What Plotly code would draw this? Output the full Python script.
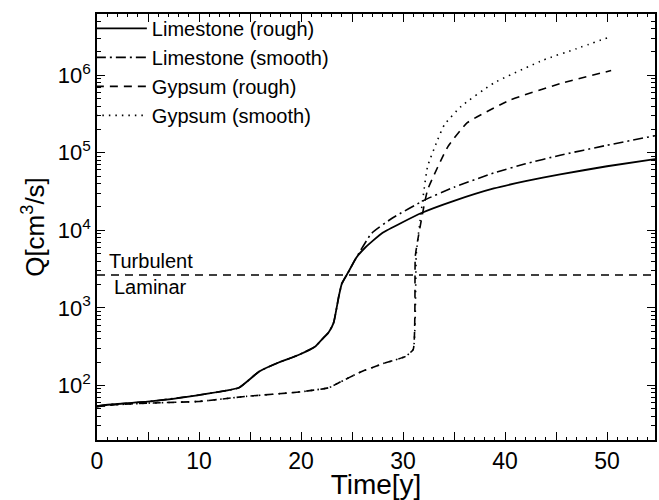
import plotly.graph_objects as go

# ---------------- data ----------------
lime_rough_t = [0, 1.6, 5.2, 10, 13.9, 15.9, 17.8, 19.8, 21.4, 22.2, 22.7, 23.2, 23.7, 24.0,
                24.6, 25.4, 26.3, 28, 31.8, 35, 38.9, 42, 45.4, 50, 54.7]
lime_rough_q = [54, 57, 62, 75, 93, 151, 197, 248, 317, 410, 480, 645, 1400, 2050,
                2830, 4400, 6000, 9300, 16700, 24000, 34700, 43000, 52600, 67000, 83000]

lime_smooth_t = [0, 1.6, 5.2, 10, 13.9, 15.9, 17.8, 19.8, 21.4, 22.2, 22.7, 23.2, 23.7, 24.0,
                 24.6, 25.4, 26.9, 29, 32.1, 35, 38.9, 42, 45.4, 50, 54.7]
lime_smooth_q = [54, 57, 62, 75, 93, 151, 197, 248, 317, 410, 480, 645, 1400, 2050,
                 2830, 4400, 9100, 14500, 24500, 36000, 55000, 72000, 93000, 125000, 166000]

gyp_rough_t = [0, 1.6, 5, 10, 14.6, 19.8, 22.7, 23.7, 25.9, 28, 30.2, 31.0, 31.2, 31.45,
               32.4, 34.4, 36.3, 40.5, 45.4, 50.4]
gyp_rough_q = [53, 56, 59, 62, 72, 82, 93, 108, 150, 190, 235, 290, 4600, 7600,
               33000, 120000, 244000, 480000, 780000, 1150000]

gyp_smooth_t = [0, 1.6, 5, 10, 14.6, 19.8, 22.7, 23.7, 25.9, 28, 30.2, 31.0, 31.3, 31.6,
                32.4, 33.4, 34.05, 35.7, 38.9, 43.8, 47, 50.4]
gyp_smooth_q = [53, 56, 59, 62, 72, 82, 93, 108, 150, 190, 235, 290, 5000, 11200,
                66000, 148000, 230000, 398000, 795000, 1580000, 2200000, 3160000]

threshold_q = 2650
x_range = [0, 54.7]

names = ["Limestone (rough)", "Limestone (smooth)", "Gypsum (rough)", "Gypsum (smooth)"]

x_tickvals = [0, 5, 10, 15, 20, 25, 30, 35, 40, 45, 50, 55]
x_ticktext = ["0", "", "10", "", "20", "", "30", "", "40", "", "50", ""]
y_tickvals = [1e2, 1e3, 1e4, 1e5, 1e6]
y_ticktext = ["10<sup>2</sup>", "10<sup>3</sup>", "10<sup>4</sup>", "10<sup>5</sup>", "10<sup>6</sup>"]
y_minor = [m * 10 ** e for e in range(1, 7) for m in range(2, 10)]

# ---------------- figure ----------------
fig = go.Figure()
series = [
    (lime_rough_t, lime_rough_q, "solid", 1.8),
    (lime_smooth_t, lime_smooth_q, "10px,4px,2px,4px", 1.6),
    (gyp_rough_t, gyp_rough_q, "8px,6px", 1.6),
    (gyp_smooth_t, gyp_smooth_q, "1.5px,5px", 1.6),
]
for (t, q, dash, w), name in zip(series, names):
    fig.add_trace(go.Scatter(x=t, y=q, mode="lines", name=name,
                             line=dict(color="black", width=w, dash=dash, shape="spline", smoothing=0.4)))

fig.add_trace(go.Scatter(x=x_range, y=[threshold_q, threshold_q], mode="lines", showlegend=False,
                         line=dict(color="black", width=1.4, dash="8px,6px")))

fig.add_annotation(x=1.0, y=3.61, xref="x", yref="y", text="Turbulent", showarrow=False,
                   xanchor="left", yanchor="middle", font=dict(size=20, color="black"))
fig.add_annotation(x=1.5, y=3.265, xref="x", yref="y", text="Laminar", showarrow=False,
                   xanchor="left", yanchor="middle", font=dict(size=20, color="black"))

fig.update_layout(
    width=659, height=500,
    margin=dict(l=97, r=2, t=14, b=60),
    paper_bgcolor="white", plot_bgcolor="white",
    font=dict(family="Liberation Sans, Arial, sans-serif", color="black"),
    showlegend=True,
    legend=dict(x=-0.011, y=1.012, xanchor="left", yanchor="top", bgcolor="rgba(0,0,0,0)",
                font=dict(size=20), itemwidth=51, tracegroupgap=0, borderwidth=0),
)
fig.update_xaxes(
    range=x_range, showgrid=False, zeroline=False,
    showline=True, linecolor="black", linewidth=1.5, mirror="ticks",
    ticks="inside", ticklen=8, tickwidth=1.3, tickcolor="black",
    tickmode="array", tickvals=x_tickvals, ticktext=x_ticktext,
    tickfont=dict(size=23),
    minor=dict(ticks="inside", dtick=1, ticklen=3, tickwidth=1, tickcolor="black"),
    title=dict(text="Time[y]", font=dict(size=28), standoff=0),
)
fig.update_yaxes(
    type="log", range=[1.295, 6.79], showgrid=False, zeroline=False,
    showline=True, linecolor="black", linewidth=1.5, mirror="ticks",
    ticks="inside", ticklen=8, tickwidth=1.3, tickcolor="black",
    tickmode="array", tickvals=y_tickvals, ticktext=y_ticktext,
    tickfont=dict(size=22),
    minor=dict(ticks="inside", tickvals=y_minor, ticklen=4, tickwidth=1, tickcolor="black"),
    title=dict(text="Q[cm<sup>3</sup>/s]", font=dict(size=26), standoff=6),
)

fig.write_html("out.html")
